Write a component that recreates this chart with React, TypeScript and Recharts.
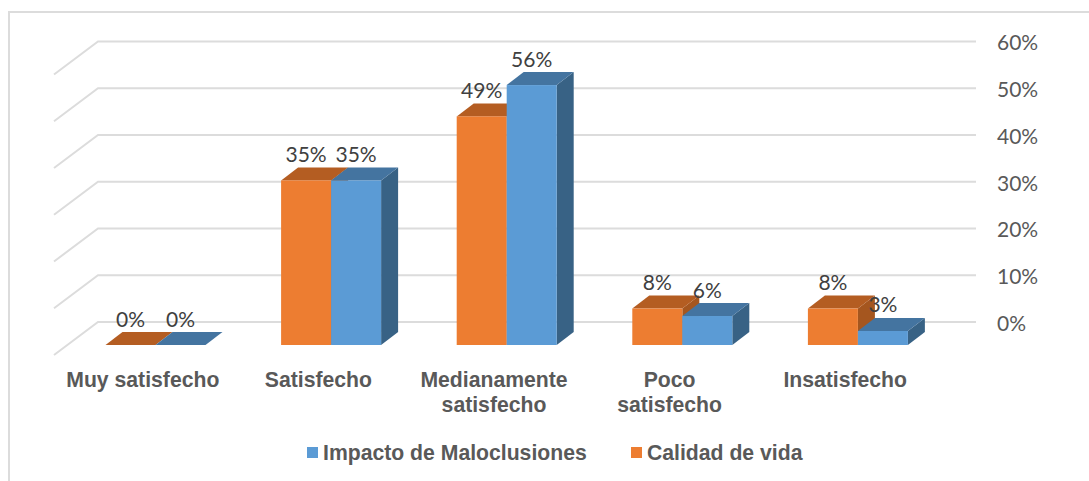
import { Bar, BarChart, CartesianGrid, LabelList, Legend, XAxis, YAxis } from 'recharts';

const categories = ['Muy satisfecho', 'Satisfecho', 'Medianamente\nsatisfecho', 'Poco\nsatisfecho', 'Insatisfecho'];
const calidadDeVida = [0, 35.2, 48.9, 7.8, 7.8];
const impactoMaloclusiones = [0, 35.2, 55.6, 6.2, 3];
const yTicks = [0, 10, 20, 30, 40, 50, 60];

const data = categories.map((name, i) => ({
  name,
  calidad: calidadDeVida[i],
  impacto: impactoMaloclusiones[i],
}));

// the front of the bars sits ahead of the back wall, where the axis ticks are
const FRONT_DX = -30.5;
const FRONT_DY = 23;
const DEPTH_X = 17;
const DEPTH_Y = 13;
const LABEL_FONT = 'Lato, sans-serif';
const BOLD_FONT = '"Liberation Sans", Arial, sans-serif';

const makeBar3D = (front: string, top: string, side: string) => (props: any) => {
  const x = props.x + FRONT_DX;
  const y = props.y + FRONT_DY;
  const { width: w, height: h } = props;
  return (
    <g>
      <polygon
        points={`${x + w},${y} ${x + w + DEPTH_X},${y - DEPTH_Y} ${x + w + DEPTH_X},${y + h - DEPTH_Y} ${x + w},${y + h}`}
        fill={side}
      />
      <polygon
        points={`${x},${y} ${x + DEPTH_X},${y - DEPTH_Y} ${x + w + DEPTH_X},${y - DEPTH_Y} ${x + w},${y}`}
        fill={top}
      />
      <rect x={x} y={y} width={w} height={h} fill={front} />
    </g>
  );
};

const BarLabel = (props: any) => {
  const { x, y, width, value } = props;
  return (
    <text
      x={x + FRONT_DX + width / 2}
      y={y + FRONT_DY - 27}
      textAnchor="middle"
      dominantBaseline="central"
      fontFamily={LABEL_FONT}
      fontSize={21}
      fill="#404040"
    >
      {Math.round(value)}%
    </text>
  );
};

const GridLine = (props: any) => {
  const { x1, x2, y1 } = props;
  return (
    <path
      key={props.key ?? y1}
      d={`M${x1 - 44},${y1 + 33} L${x1},${y1} L${x2},${y1}`}
      fill="none"
      stroke="#DCDCDC"
      strokeWidth={2}
    />
  );
};

const CategoryTick = (props: any) => {
  const { x, payload } = props;
  const lines = String(payload.value).split('\n');
  return (
    <text textAnchor="middle" fontFamily={BOLD_FONT} fontWeight="bold" fontSize={21.2} fill="#595959">
      {lines.map((line, i) => (
        <tspan key={line} x={x - 43} y={387 + i * 25}>
          {line}
        </tspan>
      ))}
    </text>
  );
};

const LegendContent = () => (
  <div style={{ position: 'relative', height: 30, fontFamily: BOLD_FONT, fontWeight: 'bold', fontSize: 21.2, color: '#595959' }}>
    <span style={{ position: 'absolute', left: 7, top: 11, width: 11, height: 11, background: '#5B9BD5' }} />
    <span style={{ position: 'absolute', left: 23, top: 5, whiteSpace: 'nowrap' }}>Impacto de Maloclusiones</span>
    <span style={{ position: 'absolute', left: 331, top: 11, width: 11, height: 11, background: '#ED7D31' }} />
    <span style={{ position: 'absolute', left: 347, top: 5, whiteSpace: 'nowrap' }}>Calidad de vida</span>
  </div>
);

export default function App() {
  return (
    <div style={{ position: 'absolute', left: 0, top: 0, width: 1089, height: 481, background: '#fff', overflow: 'hidden' }}>
      <div
        style={{
          position: 'absolute',
          left: 8,
          top: 11,
          width: 1081,
          height: 470,
          borderTop: '2px solid #DCDCDC',
          borderLeft: '2px solid #DCDCDC',
          boxSizing: 'border-box',
        }}
      />
      <div style={{ position: 'absolute', left: 0, top: 0 }}>
        <BarChart
          width={1089}
          height={481}
          data={data}
          barSize={50}
          barGap={0}
          margin={{ top: 41.5, right: 53, left: 98, bottom: 119 }}
        >
          <CartesianGrid vertical={false} horizontal={GridLine} />
          <XAxis dataKey="name" height={40} axisLine={false} tickLine={false} interval={0} tick={<CategoryTick />} />
          <YAxis
            orientation="right"
            width={60}
            domain={[0, 60]}
            ticks={yTicks}
            axisLine={false}
            tickLine={false}
            tickMargin={15}
            tickFormatter={(v) => `${v}%`}
            tick={{ fill: '#595959', fontSize: 21, fontFamily: LABEL_FONT, dy: 1.5 }}
          />
          <Legend
            verticalAlign="middle"
            align="center"
            content={<LegendContent />}
            wrapperStyle={{ top: 436, left: 300, width: 520, height: 30 }}
          />
          <Bar
            dataKey="calidad"
            name="Calidad de vida"
            isAnimationActive={false}
            shape={makeBar3D('#ED7D31', '#B45D22', '#A5561F')}
          >
            <LabelList dataKey="calidad" content={<BarLabel />} />
          </Bar>
          <Bar
            dataKey="impacto"
            name="Impacto de Maloclusiones"
            isAnimationActive={false}
            shape={makeBar3D('#5B9BD5', '#4474A0', '#386285')}
          >
            <LabelList dataKey="impacto" content={<BarLabel />} />
          </Bar>
        </BarChart>
      </div>
    </div>
  );
}
